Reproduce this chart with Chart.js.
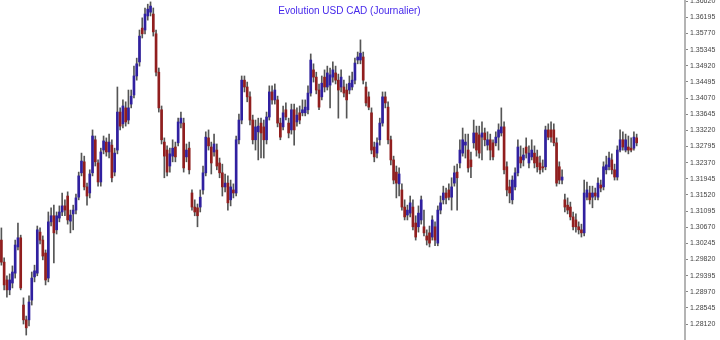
<!DOCTYPE html>
<html>
<head>
<meta charset="utf-8">
<title>Evolution USD CAD (Journalier)</title>
<script src="https://cdn.jsdelivr.net/npm/chart.js@4.4.0/dist/chart.umd.min.js"></script>
<style>
	body { margin: 0; background: #fff; }
	canvas { display: block; }
</style>
</head>
<body>
<canvas id="chart" width="720" height="340"></canvas>
<script>
// daily USD/CAD bars
const opens = [
	1.3033, 1.2975, 1.2928, 1.2902, 1.2920, 1.2946, 1.3015, 1.3039, 1.2862, 1.2823,
	1.2823, 1.2875, 1.2936, 1.2946, 1.3054, 1.3033, 1.2999, 1.2933, 1.3081, 1.3097,
	1.3060, 1.3091, 1.3107, 1.3123, 1.3149, 1.3083, 1.3102, 1.3112, 1.3146, 1.3210,
	1.3239, 1.3173, 1.3157, 1.3210, 1.3297, 1.3236, 1.3186,
	1.3270, 1.3291, 1.3265, 1.3283, 1.3212, 1.3270, 1.3370, 1.3339, 1.3381, 1.3349,
	1.3391, 1.3415, 1.3465, 1.3502, 1.3591, 1.3586, 1.3623, 1.3633, 1.3628, 1.3576,
	1.3475, 1.3376, 1.3291, 1.3270, 1.3228, 1.3254, 1.3278, 1.3289, 1.3341, 1.3341,
	1.3252, 1.3275, 1.3157, 1.3120, 1.3118,
	1.3120, 1.3165, 1.3210, 1.3302, 1.3278, 1.3265, 1.3270, 1.3236, 1.3210, 1.3173,
	1.3183, 1.3139, 1.3165, 1.3157, 1.3297, 1.3349, 1.3454, 1.3436, 1.3410, 1.3349,
	1.3297, 1.3318, 1.3341, 1.3331, 1.3297, 1.3357, 1.3423, 1.3402, 1.3402, 1.3341,
	1.3331, 1.3376, 1.3341, 1.3323, 1.3376, 1.3344,
	1.3368, 1.3368, 1.3368, 1.3376, 1.3420, 1.3481, 1.3462, 1.3428, 1.3410, 1.3462,
	1.3436, 1.3441, 1.3462, 1.3473, 1.3454, 1.3436, 1.3436, 1.3428, 1.3428, 1.3436,
	1.3454, 1.3507, 1.3507, 1.3515, 1.3436, 1.3410, 1.3368, 1.3278, 1.3262, 1.3297,
	1.3341, 1.3410, 1.3383, 1.3297, 1.3244, 1.3212,
	1.3181, 1.3165, 1.3120, 1.3099, 1.3104, 1.3120, 1.3078, 1.3068, 1.3086, 1.3068,
	1.3044, 1.3052, 1.3041, 1.3068, 1.3025, 1.3112, 1.3139, 1.3157, 1.3165, 1.3146,
	1.3183, 1.3212, 1.3236, 1.3262, 1.3283, 1.3270, 1.3244, 1.3289, 1.3315, 1.3310,
	1.3304, 1.3315, 1.3283, 1.3297, 1.3289, 1.3289, 1.3304,
	1.3315, 1.3331, 1.3226, 1.3173, 1.3139, 1.3173, 1.3210, 1.3252, 1.3244, 1.3278,
	1.3236, 1.3252, 1.3262, 1.3252, 1.3236, 1.3226, 1.3226, 1.3323, 1.3323, 1.3323,
	1.3289, 1.3226, 1.3191, 1.3139, 1.3125, 1.3120, 1.3094, 1.3086, 1.3068, 1.3060,
	1.3052, 1.3146, 1.3157, 1.3146, 1.3157, 1.3146, 1.3178,
	1.3173, 1.3218, 1.3226, 1.3244, 1.3218, 1.3199, 1.3270, 1.3297, 1.3270, 1.3278,
	1.3275, 1.3275, 1.3302,
];

const highs = [
	1.3065, 1.2986, 1.2939, 1.2944, 1.2965, 1.3033, 1.3078, 1.3046, 1.2881, 1.2833,
	1.2886, 1.2949, 1.2967, 1.3070, 1.3065, 1.3044, 1.3007, 1.3107, 1.3118, 1.3125,
	1.3107, 1.3123, 1.3157, 1.3139, 1.3160, 1.3112, 1.3125, 1.3154, 1.3212, 1.3262,
	1.3254, 1.3183, 1.3218, 1.3323, 1.3307, 1.3244, 1.3275,
	1.3307, 1.3302, 1.3312, 1.3297, 1.3275, 1.3436, 1.3381, 1.3402, 1.3397, 1.3428,
	1.3428, 1.3491, 1.3512, 1.3586, 1.3618, 1.3644, 1.3654, 1.3660, 1.3644, 1.3586,
	1.3486, 1.3386, 1.3302, 1.3281, 1.3275, 1.3297, 1.3291, 1.3354, 1.3370, 1.3354,
	1.3286, 1.3291, 1.3165, 1.3139, 1.3128,
	1.3165, 1.3228, 1.3318, 1.3323, 1.3291, 1.3312, 1.3286, 1.3249, 1.3233, 1.3207,
	1.3202, 1.3191, 1.3181, 1.3307, 1.3365, 1.3465, 1.3465, 1.3449, 1.3423, 1.3362,
	1.3349, 1.3354, 1.3354, 1.3349, 1.3370, 1.3439, 1.3439, 1.3444, 1.3412, 1.3354,
	1.3386, 1.3394, 1.3354, 1.3391, 1.3391, 1.3381,
	1.3386, 1.3402, 1.3402, 1.3439, 1.3523, 1.3497, 1.3475, 1.3444, 1.3465, 1.3481,
	1.3491, 1.3486, 1.3502, 1.3491, 1.3470, 1.3481, 1.3454, 1.3444, 1.3465, 1.3475,
	1.3512, 1.3528, 1.3560, 1.3528, 1.3449, 1.3423, 1.3381, 1.3291, 1.3302, 1.3354,
	1.3423, 1.3423, 1.3397, 1.3307, 1.3254, 1.3228,
	1.3223, 1.3181, 1.3139, 1.3125, 1.3149, 1.3139, 1.3097, 1.3123, 1.3149, 1.3112,
	1.3060, 1.3070, 1.3097, 1.3081, 1.3123, 1.3149, 1.3175, 1.3170, 1.3181, 1.3197,
	1.3228, 1.3233, 1.3297, 1.3328, 1.3312, 1.3312, 1.3265, 1.3349, 1.3333, 1.3333,
	1.3344, 1.3328, 1.3318, 1.3312, 1.3297, 1.3318, 1.3339,
	1.3381, 1.3344, 1.3239, 1.3191, 1.3202, 1.3223, 1.3297, 1.3281, 1.3275, 1.3302,
	1.3281, 1.3297, 1.3281, 1.3270, 1.3254, 1.3244, 1.3333, 1.3339, 1.3344, 1.3339,
	1.3302, 1.3239, 1.3218, 1.3154, 1.3144, 1.3133, 1.3107, 1.3102, 1.3081, 1.3075,
	1.3191, 1.3186, 1.3175, 1.3175, 1.3170, 1.3197, 1.3191,
	1.3239, 1.3254, 1.3265, 1.3260, 1.3233, 1.3281, 1.3323, 1.3318, 1.3312, 1.3307,
	1.3302, 1.3318, 1.3312,
];

const lows = [
	1.2967, 1.2902, 1.2883, 1.2889, 1.2907, 1.2933, 1.3007, 1.2902, 1.2812, 1.2783,
	1.2807, 1.2862, 1.2923, 1.2939, 1.3023, 1.2981, 1.2915, 1.2923, 1.3070, 1.2973,
	1.3049, 1.3081, 1.3097, 1.3097, 1.3075, 1.3052, 1.3060, 1.3102, 1.3139, 1.3202,
	1.3165, 1.3125, 1.3144, 1.3202, 1.3228, 1.3175, 1.3175,
	1.3260, 1.3254, 1.3249, 1.3186, 1.3202, 1.3260, 1.3323, 1.3328, 1.3333, 1.3339,
	1.3381, 1.3407, 1.3454, 1.3491, 1.3565, 1.3576, 1.3612, 1.3623, 1.3570, 1.3465,
	1.3370, 1.3286, 1.3197, 1.3202, 1.3212, 1.3239, 1.3239, 1.3281, 1.3328, 1.3212,
	1.3239, 1.3207, 1.3112, 1.3097, 1.3068,
	1.3107, 1.3154, 1.3202, 1.3270, 1.3207, 1.3254, 1.3218, 1.3197, 1.3149, 1.3160,
	1.3112, 1.3123, 1.3144, 1.3149, 1.3286, 1.3339, 1.3423, 1.3397, 1.3336, 1.3286,
	1.3270, 1.3244, 1.3249, 1.3249, 1.3286, 1.3349, 1.3391, 1.3391, 1.3331, 1.3297,
	1.3323, 1.3349, 1.3302, 1.3312, 1.3283, 1.3333,
	1.3339, 1.3360, 1.3360, 1.3365, 1.3412, 1.3449, 1.3418, 1.3376, 1.3402, 1.3423,
	1.3428, 1.3381, 1.3449, 1.3444, 1.3354, 1.3423, 1.3410, 1.3354, 1.3418, 1.3428,
	1.3444, 1.3497, 1.3497, 1.3444, 1.3386, 1.3376, 1.3260, 1.3239, 1.3249, 1.3283,
	1.3333, 1.3381, 1.3286, 1.3231, 1.3181, 1.3144,
	1.3149, 1.3112, 1.3086, 1.3086, 1.3094, 1.3060, 1.3033, 1.3054, 1.3075, 1.3044,
	1.3020, 1.3015, 1.3033, 1.3018, 1.3018, 1.3102, 1.3128, 1.3128, 1.3139, 1.3112,
	1.3175, 1.3112, 1.3223, 1.3254, 1.3249, 1.3212, 1.3197, 1.3275, 1.3254, 1.3249,
	1.3244, 1.3281, 1.3270, 1.3244, 1.3244, 1.3281, 1.3270,
	1.3307, 1.3207, 1.3149, 1.3131, 1.3128, 1.3165, 1.3202, 1.3223, 1.3228, 1.3249,
	1.3223, 1.3244, 1.3223, 1.3212, 1.3207, 1.3212, 1.3218, 1.3297, 1.3291, 1.3281,
	1.3175, 1.3181, 1.3181, 1.3107, 1.3102, 1.3086, 1.3060, 1.3054, 1.3049, 1.3041,
	1.3044, 1.3139, 1.3128, 1.3118, 1.3139, 1.3139, 1.3160,
	1.3165, 1.3207, 1.3218, 1.3207, 1.3191, 1.3191, 1.3265, 1.3270, 1.3265, 1.3260,
	1.3265, 1.3270, 1.3281,
];

const closes = [
	1.2975, 1.2915, 1.2902, 1.2928, 1.2949, 1.3020, 1.3039, 1.2907, 1.2823, 1.2802,
	1.2870, 1.2933, 1.2952, 1.3060, 1.3033, 1.2991, 1.2928, 1.3081, 1.3097, 1.3052,
	1.3097, 1.3107, 1.3123, 1.3112, 1.3086, 1.3099, 1.3112, 1.3144, 1.3202, 1.3241,
	1.3173, 1.3149, 1.3207, 1.3307, 1.3239, 1.3186, 1.3265,
	1.3294, 1.3265, 1.3291, 1.3197, 1.3262, 1.3370, 1.3333, 1.3386, 1.3344, 1.3381,
	1.3412, 1.3465, 1.3497, 1.3570, 1.3576, 1.3628, 1.3641, 1.3649, 1.3581, 1.3475,
	1.3381, 1.3297, 1.3254, 1.3212, 1.3260, 1.3275, 1.3252, 1.3344, 1.3354, 1.3223,
	1.3270, 1.3218, 1.3120, 1.3107, 1.3097,
	1.3146, 1.3210, 1.3304, 1.3281, 1.3236, 1.3286, 1.3228, 1.3210, 1.3173, 1.3183,
	1.3131, 1.3173, 1.3157, 1.3297, 1.3349, 1.3454, 1.3436, 1.3410, 1.3349, 1.3297,
	1.3331, 1.3333, 1.3315, 1.3297, 1.3357, 1.3423, 1.3402, 1.3428, 1.3341, 1.3304,
	1.3368, 1.3357, 1.3315, 1.3376, 1.3323, 1.3362,
	1.3349, 1.3376, 1.3383, 1.3420, 1.3507, 1.3462, 1.3428, 1.3383, 1.3446, 1.3436,
	1.3473, 1.3468, 1.3481, 1.3454, 1.3428, 1.3462, 1.3420, 1.3402, 1.3446, 1.3454,
	1.3499, 1.3515, 1.3525, 1.3454, 1.3394, 1.3383, 1.3270, 1.3252, 1.3289, 1.3341,
	1.3410, 1.3394, 1.3297, 1.3244, 1.3191, 1.3183,
	1.3207, 1.3120, 1.3094, 1.3112, 1.3131, 1.3068, 1.3041, 1.3104, 1.3139, 1.3052,
	1.3033, 1.3025, 1.3086, 1.3033, 1.3112, 1.3131, 1.3157, 1.3144, 1.3146, 1.3173,
	1.3210, 1.3197, 1.3270, 1.3297, 1.3291, 1.3223, 1.3226, 1.3315, 1.3270, 1.3262,
	1.3315, 1.3297, 1.3297, 1.3270, 1.3252, 1.3304, 1.3323,
	1.3331, 1.3218, 1.3165, 1.3157, 1.3191, 1.3210, 1.3278, 1.3236, 1.3257, 1.3262,
	1.3262, 1.3270, 1.3236, 1.3226, 1.3218, 1.3223, 1.3323, 1.3304, 1.3304, 1.3289,
	1.3183, 1.3191, 1.3199, 1.3120, 1.3112, 1.3094, 1.3068, 1.3068, 1.3060, 1.3052,
	1.3157, 1.3165, 1.3139, 1.3157, 1.3149, 1.3183, 1.3170,
	1.3226, 1.3231, 1.3249, 1.3218, 1.3199, 1.3270, 1.3297, 1.3278, 1.3297, 1.3270,
	1.3270, 1.3304, 1.3289,
];

const priceTicks = [
	1.28120, 1.28545, 1.28970, 1.29395, 1.29820, 1.30245, 1.30670,
	1.31095, 1.31520, 1.31945, 1.32370, 1.32795, 1.33220, 1.33645,
	1.34070, 1.34495, 1.34920, 1.35345, 1.35770, 1.36195, 1.36620,
];

const chartTitle = "Evolution USD CAD (Journalier)";
const emptyDays = 17; // free space on the right of the last bar

const upColor = "rgb(48, 32, 160)";
const downColor = "rgb(145, 30, 30)";
const wickColor = "rgb(85, 85, 85)";

const buildLabels = () => {
	const labels = opens.map((_, i) => "J" + (i + 1));
	for (let i = 0; i < emptyDays; i++) labels.push("");
	return labels;
};

const titlePlugin = {
	id: "chartTitle",
	afterDraw: (chart) => {
		const { ctx, chartArea } = chart;
		ctx.save();
		ctx.font = "10px 'Liberation Sans', Arial, sans-serif";
		ctx.fillStyle = "rgb(70, 40, 235)";
		ctx.textAlign = "center";
		ctx.textBaseline = "middle";
		ctx.fillText(chartTitle, (chartArea.left + chartArea.right) / 2 + 7, 11);
		ctx.restore();
	},
};

const setChartData = () => {
	return {
		labels: buildLabels(),
		datasets: [
			{
				label: "Plus haut / plus bas",
				data: highs.map((h, i) => [lows[i], h]),
				backgroundColor: wickColor,
				barThickness: 1,
				grouped: false,
				order: 2,
			},
			{
				label: "Ouverture / clôture",
				data: opens.map((o, i) => [o, closes[i]]),
				backgroundColor: opens.map((o, i) => (closes[i] >= o ? upColor : downColor)),
				barThickness: 2,
				minBarLength: 1,
				grouped: false,
				order: 1,
			},
		],
	};
};

const setChartConfig = (data) => {
	return {
		type: "bar",
		data: data,
		plugins: [titlePlugin],
		options: {
			responsive: false,
			animation: false,
			devicePixelRatio: 1,
			layout: { padding: 0 },
			scales: {
				x: {
					display: false,
					grid: { display: false },
				},
				y: {
					position: "right",
					min: 1.277,
					max: 1.3665,
					afterBuildTicks: (scale) => {
						scale.ticks = priceTicks.map((v) => ({ value: v }));
					},
					afterFit: (scale) => {
						scale.width = 35;
						scale.paddingTop = 0;
						scale.paddingBottom = 0;
					},
					ticks: {
						callback: (value) => Number(value).toFixed(5),
						font: { size: 7, family: "'Liberation Sans', Arial, sans-serif" },
						color: "#444",
						padding: 2,
					},
					grid: {
						drawOnChartArea: false,
						drawTicks: true,
						tickLength: 3,
						color: "#888",
					},
					border: { display: true, color: "#b4b4b4", width: 2 },
				},
			},
			plugins: {
				legend: { display: false },
				tooltip: { enabled: false },
			},
		},
	};
};

const chartCanvas = document.getElementById("chart");
const priceChart = new Chart(chartCanvas, setChartConfig(setChartData()));
</script>
</body>
</html>
